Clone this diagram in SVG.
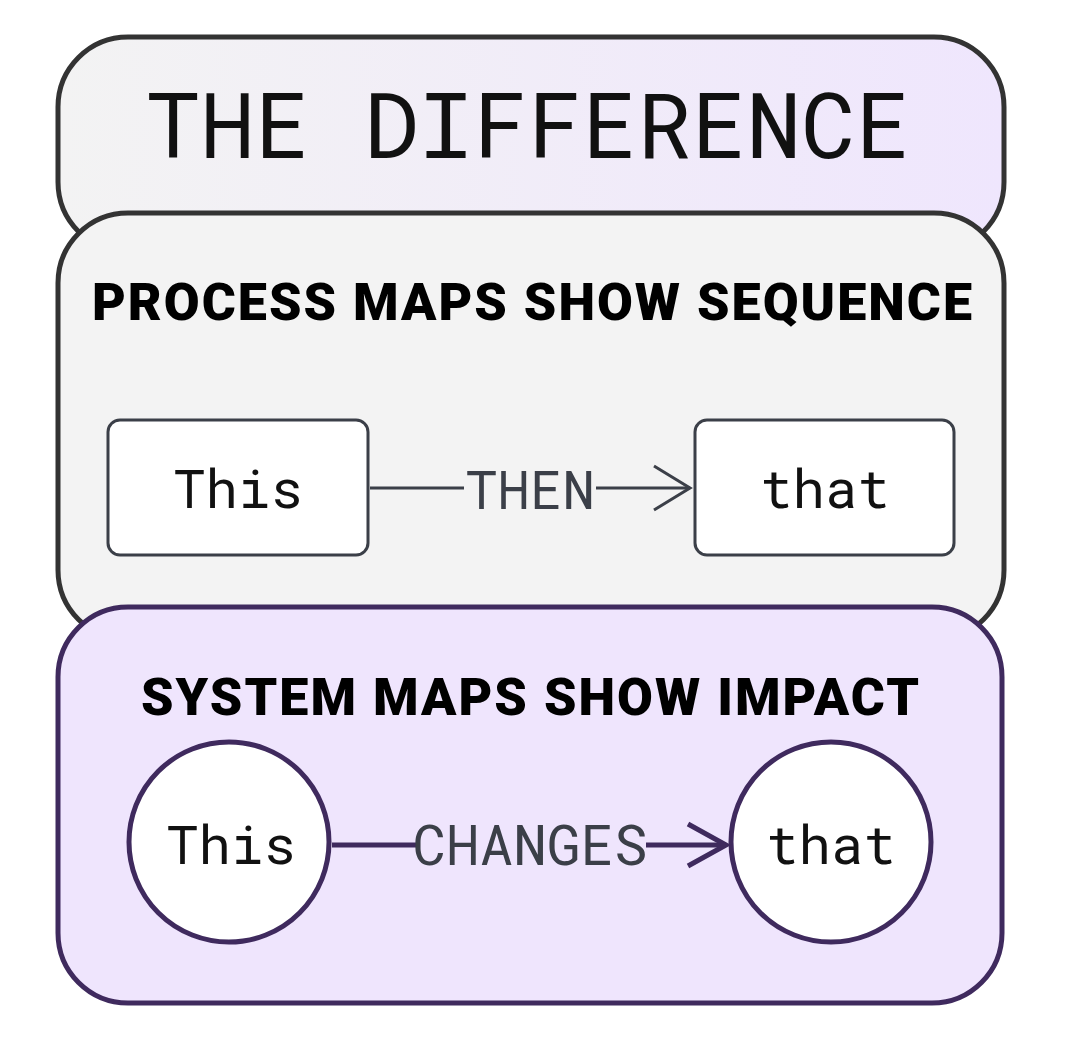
<svg xmlns="http://www.w3.org/2000/svg" width="1073" height="1043" viewBox="0 0 1073 1043">
<defs>
<linearGradient id="g" x1="0" x2="1" y1="0" y2="0"><stop offset="0" stop-color="#f3f3f3"/><stop offset="1" stop-color="#efe6fd"/></linearGradient>
<style>
.mono{font-family:"Roboto Mono","DejaVu Sans Mono","Liberation Mono",monospace}
.head{font-family:Roboto,"Liberation Sans",sans-serif;font-weight:900;font-size:52px;fill:#000}
.node{font-size:54px;fill:#111}
.lbl{fill:#3b3f48}
</style>
</defs>
<g id="top"><rect x="58" y="37" width="946" height="215" rx="70" fill="url(#g)" stroke="#333" stroke-width="5"/>
<text x="528" y="158" class="mono" font-size="91" text-anchor="middle" fill="#111">THE DIFFERENCE</text></g>
<g id="process"><rect x="58" y="213" width="946" height="427" rx="70" fill="#f3f3f3" stroke="#333" stroke-width="5"/>
<text x="532" y="320" class="head" text-anchor="middle" textLength="880">PROCESS MAPS SHOW SEQUENCE</text></g>
<g id="p-this"><rect x="108" y="420" width="260" height="135" rx="12" fill="#fff" stroke="#3b3f48" stroke-width="3"/>
<text x="238" y="508" class="mono node" text-anchor="middle">This</text></g>
<g id="p-that"><rect x="695" y="420" width="259" height="135" rx="12" fill="#fff" stroke="#3b3f48" stroke-width="3"/>
<text x="825" y="508" class="mono node" text-anchor="middle">that</text></g>
<g id="system"><rect x="58" y="607" width="944" height="396" rx="70" fill="#efe5fd" stroke="#3f2a5e" stroke-width="5"/>
<text x="530" y="715" class="head" text-anchor="middle" textLength="778">SYSTEM MAPS SHOW IMPACT</text></g>
<g id="s-this"><circle cx="229" cy="842" r="100" fill="#fff" stroke="#3f2a5e" stroke-width="5"/>
<text x="231" y="864" class="mono node" text-anchor="middle">This</text></g>
<g id="s-that"><circle cx="831" cy="842" r="100" fill="#fff" stroke="#3f2a5e" stroke-width="5"/>
<text x="831" y="864" class="mono node" text-anchor="middle">that</text></g>
<g id="connectors" fill="none">
<path d="M370 488H464M596 488H690" stroke="#3b3f48" stroke-width="3"/>
<path d="M654 466L690 488L654 510" stroke="#3b3f48" stroke-width="3"/>
<path d="M332 845H416M646 845H726" stroke="#3f2a5e" stroke-width="5"/>
<path d="M688 824L726 845L688 866" stroke="#3f2a5e" stroke-width="5"/>
</g>
<text x="530" y="509" class="mono lbl" font-size="54" text-anchor="middle">THEN</text>
<text x="530" y="865" class="mono lbl" font-size="56" text-anchor="middle">CHANGES</text>
</svg>
